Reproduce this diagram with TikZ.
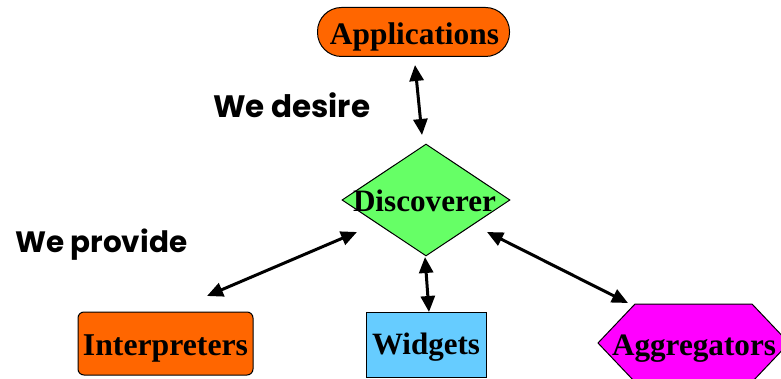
\documentclass[tikz,border=0pt]{standalone}
\usepackage{fontspec}
\setmainfont{Liberation Serif}
\newfontfamily\notefont{Poppins}
\usetikzlibrary{arrows.meta,shapes.geometric}
\definecolor{apporange}{HTML}{FF6600}
\definecolor{discgreen}{HTML}{66FF66}
\definecolor{widgetblue}{HTML}{66CCFF}
\definecolor{aggmagenta}{HTML}{FF00FF}
\tikzset{
  boxlabel/.style={font=\fontsize{33}{33}\selectfont\bfseries, text=black, inner sep=0pt, anchor=base},
  notelabel/.style={font=\notefont\fontsize{25}{25}\selectfont\bfseries, anchor=base west, inner sep=0pt},
  shapeline/.style={draw=black, line width=1pt},
  link/.style={line width=3pt, {Triangle[length=16pt,width=14pt]}-{Triangle[length=16pt,width=14pt]}}
}
\begin{document}
\begin{tikzpicture}[x=1pt,y=-1pt]
\useasboundingbox (0,0) rectangle (781,379);

% Applications: pill-shaped box
\node[shapeline, fill=apporange, rounded corners=24pt, minimum width=192pt, minimum height=49pt, inner sep=0pt]
  (app) at (413.5,32) {};
\node[boxlabel] (applbl) at (414.5,45) {\resizebox{169pt}{!}{Applications}};

% Discoverer: diamond
\node[shapeline, fill=discgreen, diamond, minimum width=168pt, minimum height=112pt, inner sep=0pt]
  (disc) at (426,200) {};
\node[boxlabel] (disclbl) at (424.5,212) {\resizebox{143pt}{!}{Discoverer}};

% Interpreters
\node[shapeline, fill=apporange, rounded corners=6pt, minimum width=175pt, minimum height=63pt, inner sep=0pt]
  (interp) at (165.5,343.5) {};
\node[boxlabel] (interplbl) at (165.5,355) {\resizebox{165pt}{!}{Interpreters}};

% Widgets
\node[shapeline, fill=widgetblue, minimum width=120pt, minimum height=65pt, inner sep=0pt]
  (widg) at (426,344.5) {};
\node[boxlabel] (widglbl) at (426,354) {\resizebox{108pt}{!}{Widgets}};

% Aggregators: flat-topped hexagon running off the right edge
\draw[shapeline, fill=aggmagenta] (598,343) -- (635,304) -- (752,304) -- (789,343) -- (752,382) -- (635,382) -- cycle;
\node[boxlabel] (agglbl) at (694,355) {\resizebox{164pt}{!}{Aggregators}};

% Side notes
\node[notelabel] (desire) at (213,118) {\resizebox{157pt}{!}{We desire}};
\node[notelabel] (provide) at (15,253) {\resizebox{172pt}{!}{We provide}};

% Connector end points
\coordinate (append) at (415,65);
\coordinate (disctop) at (422,135);
\coordinate (discleft) at (357,232);
\coordinate (interpend) at (207,296);
\coordinate (discbottom) at (425,257);
\coordinate (widgend) at (429,312);
\coordinate (discright) at (487,232);
\coordinate (aggend) at (628,303);

\draw[link] (append) -- (disctop);
\draw[link] (discleft) -- (interpend);
\draw[link] (discbottom) -- (widgend);
\draw[link] (discright) -- (aggend);
\end{tikzpicture}
\end{document}
